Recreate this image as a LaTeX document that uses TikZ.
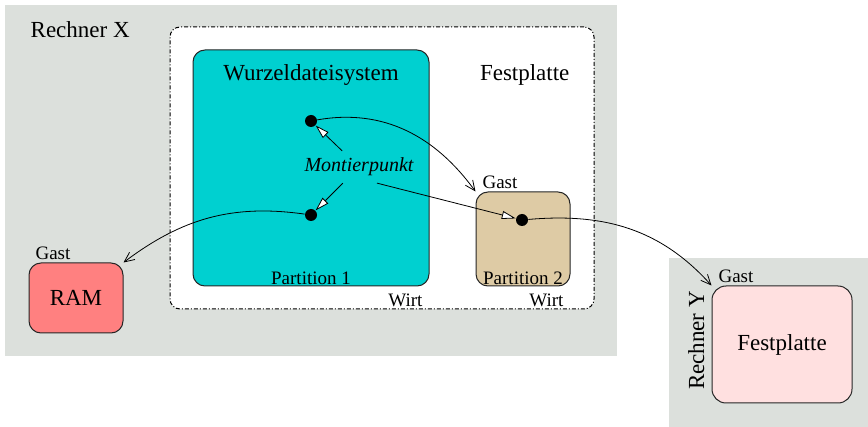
\documentclass[tikz,border=0pt]{standalone}
\usepackage{fontspec}
\setmainfont{Liberation Serif}
\usetikzlibrary{arrows.meta,positioning}
\definecolor{rechnergrau}{HTML}{DCE0DC}
\definecolor{wurzelcyan}{HTML}{00D0D0}
\definecolor{gasttan}{HTML}{DECBA5}
\definecolor{ramrot}{HTML}{FF8080}
\definecolor{plattenrosa}{HTML}{FFE0E0}

\begin{document}
\begin{tikzpicture}[x=0.5pt,y=-0.5pt,
  rechner/.style={fill=rechnergrau,inner sep=0pt},
  kiste/.style={draw=black!85,line width=0.5pt,rounded corners=6pt,inner sep=0pt},
  gross/.style={font=\fontsize{11.5}{13}\selectfont},
  klein/.style={font=\fontsize{9.5}{11}\selectfont},
  punkt/.style={circle,fill=black,minimum size=6pt,inner sep=0pt},
  zeiger/.style={-{Triangle[fill=white,length=7pt,width=4pt]},line width=0.4pt},
  bogen/.style={-{Straight Barb[length=5pt,width=4.5pt]},line width=0.4pt}]
   \useasboundingbox (0,0) rectangle (868,427);

   % Rechner
   \node[rechner,minimum width=306pt,minimum height=175.5pt] (rx) at (311,180.5) {};
   \node[rechner,minimum width=99.5pt,minimum height=84.5pt] (ry) at (768.5,342.5) {};
   \node[gross] (rxname) [below right=5pt and 9.5pt of rx.north west] {Rechner X};

   % Festplatte mit Partitionen
   \node[kiste,fill=white,rounded corners=5pt,draw=black,
         dash pattern=on 2pt off 1pt on 0.5pt off 1pt,
         minimum width=212pt,minimum height=141pt] (disk) at (382,168) {};
   \node[gross] (diskname) [below left=15.5pt and 9pt of disk.north east] {Festplatte};
   \node[kiste,fill=wurzelcyan,minimum width=118pt,minimum height=118pt] (wurzel) at (311,168) {};
   \node[gross] (wurzelname) [below=4pt of wurzel.north] {Wurzeldateisystem};
   \node[klein] (p1name) [above=-2.5pt of wurzel.south] {Partition 1};
   \node[klein] (wirt1) [below left=0pt and 0pt of wurzel.south east] {Wirt};
   \node[kiste,fill=gasttan,minimum width=47pt,minimum height=47pt] (part2) at (523,239) {};
   \node[klein] (p2name) [above=-2.5pt of part2.south] {Partition 2};
   \node[klein] (wirt2) [below left=0pt and 0pt of part2.south east] {Wirt};
   \node[klein] (gast2) [above right=-2pt and 0pt of part2.north west] {Gast};

   % Gaeste
   \node[kiste,gross,fill=ramrot,minimum width=47pt,minimum height=35pt] (ram) at (76,298) {RAM};
   \node[klein] (gastram) [above right=-2pt and 0pt of ram.north west] {Gast};
   \node[kiste,gross,fill=plattenrosa,rounded corners=7pt,minimum width=70pt,minimum height=58.5pt] (fy) at (782,344.5) {Festplatte};
   \node[klein] (gastfy) [above right=-2pt and 0pt of fy.north west] {Gast};
   \node[gross,rotate=90,anchor=south] (ryname) at ([yshift=2pt]fy.west) {Rechner Y};

   % Montierpunkte
   \node[punkt] (mp1) at (311,121) {};
   \node[punkt] (mp2) at (311,215) {};
   \node[punkt] (mp3) at (522,220) {};
   \node[font=\fontsize{10}{12}\selectfont\itshape] (mp) at (359,167) {Montierpunkt};

   \path[zeiger]
    (mp) edge (mp1)
         edge (mp2)
    ([xshift=9pt]mp.south) edge (mp3);
   \path[bogen]
    (mp1) edge [out=10,in=126] (part2.north west)
    (mp2) edge [out=172,in=37] (ram.north east)
    (mp3) edge [out=5,in=132] (fy.north west);
\end{tikzpicture}
\end{document}
